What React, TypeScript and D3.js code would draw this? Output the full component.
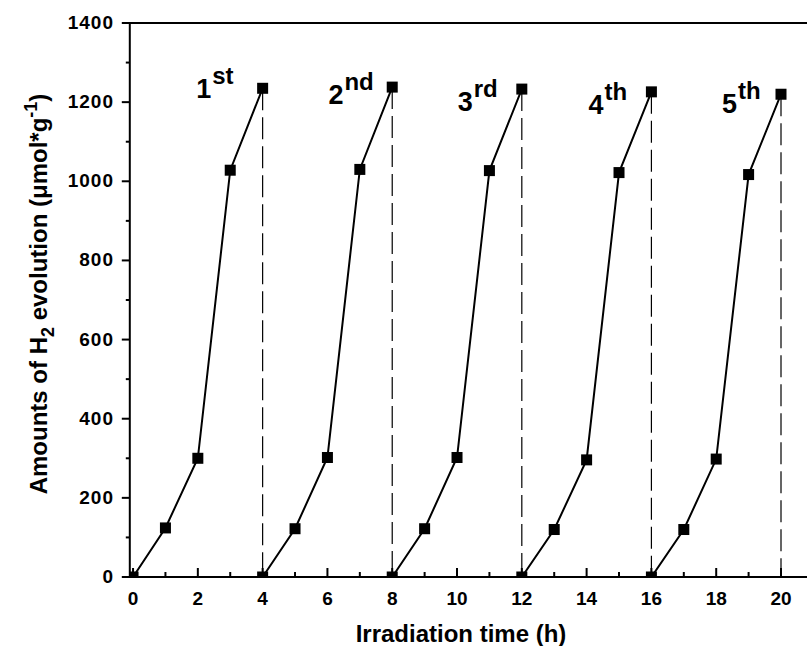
import React from 'react';
import * as d3 from 'd3';

// hours into each run and the H2 amounts (umol/g)
const runHours = [0, 1, 2, 3, 4];
const runStarts = [0, 4, 8, 12, 16];
const run1 = [0, 124, 300, 1028, 1235];
const run2 = [0, 122, 302, 1030, 1238];
const run3 = [0, 122, 302, 1027, 1233];
const run4 = [0, 120, 296, 1022, 1226];
const run5 = [0, 120, 298, 1017, 1220];
const runs = [run1, run2, run3, run4, run5];

const runNumbers = ['1', '2', '3', '4', '5'];
const runSuffix = ['st', 'nd', 'rd', 'th', 'th'];
// annotation anchors in data units (left edge of digit, baseline)
const labelHour = [1.95, 6.03, 10.02, 14.06, 18.18];
const labelAmount = [1211, 1196, 1178, 1171, 1173];

const xTicks = [0, 2, 4, 6, 8, 10, 12, 14, 16, 18, 20];
const yTicks = [0, 200, 400, 600, 800, 1000, 1200, 1400];

const W = 807;
const H = 646;
const FONT = '"Liberation Sans", Arial, sans-serif';

export default function App() {
  const x = d3.scaleLinear().domain([-0.1, 21]).range([129.8, 813.4]);
  const y = d3.scaleLinear().domain([0, 1400]).range([577, 23]);

  const line = d3
    .line<[number, number]>()
    .x(d => x(d[0]))
    .y(d => y(d[1]));

  const left = x(-0.1);
  const bottom = y(0);
  const top = y(1400);

  const minorX = d3.range(1, 21, 2);
  const minorY = d3.range(100, 1400, 200);

  return (
    <svg
      width={W}
      height={H}
      style={{ position: 'absolute', left: 0, top: 0, background: '#fff' }}
      fontFamily={FONT}
    >
      <defs>
        <clipPath id="plot">
          <rect x={left} y={top} width={W - left} height={bottom - top} />
        </clipPath>
      </defs>

      {/* dashed separators at the end of each run */}
      {runs.map((vals, i) => {
        const xe = runStarts[i] + runHours[runHours.length - 1];
        return (
          <line
            key={'d' + i}
            x1={x(xe)}
            x2={x(xe)}
            y1={y(vals[vals.length - 1])}
            y2={bottom}
            stroke="#000"
            strokeWidth={1.2}
            strokeDasharray="22,7"
          />
        );
      })}

      <g clipPath="url(#plot)">
        {runs.map((vals, i) => {
          const pts: [number, number][] = vals.map((v, j) => [runStarts[i] + runHours[j], v]);
          return (
            <g key={'r' + i}>
              <path d={line(pts) || ''} fill="none" stroke="#000" strokeWidth={2} />
              {pts.map((p, j) => (
                <rect
                  key={j}
                  x={x(p[0]) - 5.5}
                  y={y(p[1]) - 5.5}
                  width={11}
                  height={11}
                  fill="#000"
                />
              ))}
            </g>
          );
        })}
      </g>

      {/* frame */}
      <line x1={left} x2={W} y1={top} y2={top} stroke="#000" strokeWidth={2} />
      <line x1={left} x2={W} y1={bottom} y2={bottom} stroke="#000" strokeWidth={2} />
      <line x1={left} x2={left} y1={top - 1} y2={bottom + 1} stroke="#000" strokeWidth={2} />

      {/* x ticks (inward) */}
      {xTicks.map(t => (
        <g key={'xt' + t}>
          <line x1={x(t)} x2={x(t)} y1={bottom} y2={bottom - 9} stroke="#000" strokeWidth={2} />
          <text x={x(t)} y={605} textAnchor="middle" fontSize={19} fontWeight="bold">
            {t}
          </text>
        </g>
      ))}
      {minorX.map(t => (
        <line key={'xm' + t} x1={x(t)} x2={x(t)} y1={bottom} y2={bottom - 5} stroke="#000" strokeWidth={2} />
      ))}

      {/* y ticks (outward) */}
      {yTicks.map(t => (
        <g key={'yt' + t}>
          <line x1={left} x2={left - 8} y1={y(t)} y2={y(t)} stroke="#000" strokeWidth={2} />
          <text x={114} y={y(t) + 6} textAnchor="end" fontSize={19} fontWeight="bold" letterSpacing={1}>
            {t}
          </text>
        </g>
      ))}
      {minorY.map(t => (
        <line key={'ym' + t} x1={left} x2={left - 4} y1={y(t)} y2={y(t)} stroke="#000" strokeWidth={2} />
      ))}

      {/* run annotations */}
      {runNumbers.map((n, i) => (
        <text
          key={'a' + i}
          x={x(labelHour[i])}
          y={y(labelAmount[i])}
          fontSize={27}
          fontWeight="bold"
        >
          {n}
          <tspan dx={1} dy={-14} fontSize={24}>
            {runSuffix[i]}
          </tspan>
        </text>
      ))}

      {/* axis titles */}
      <text x={461} y={642} textAnchor="middle" fontSize={24} fontWeight="bold">
        Irradiation time (h)
      </text>
      <text
        transform="translate(47,294) rotate(-90)"
        textAnchor="middle"
        fontSize={24}
        fontWeight="bold"
      >
        Amounts of H
        <tspan dy={7} fontSize={18}>2</tspan>
        <tspan dy={-7}> evolution (μmol*g</tspan>
        <tspan dy={-10} fontSize={18}>-1</tspan>
        <tspan dy={10}>)</tspan>
      </text>
    </svg>
  );
}
